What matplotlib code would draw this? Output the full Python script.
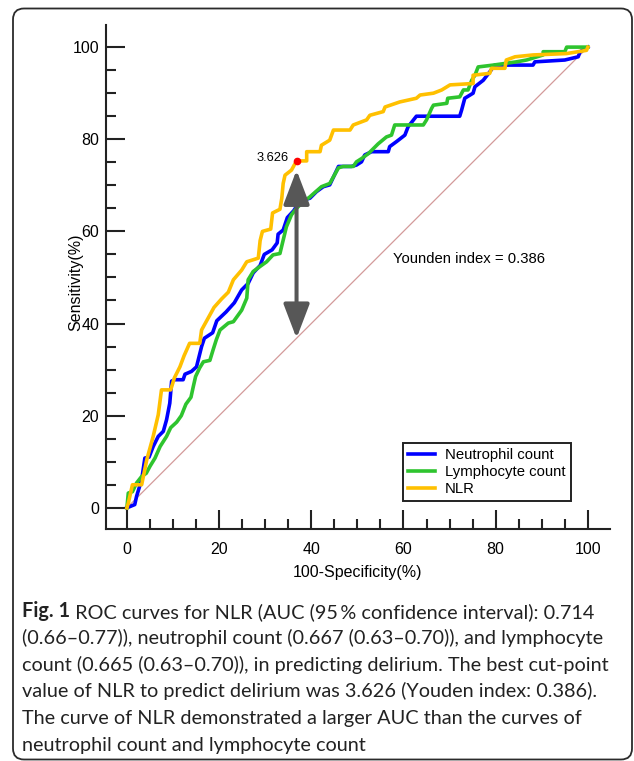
import matplotlib
matplotlib.use("Agg")
import matplotlib.pyplot as plt
from matplotlib.patches import FancyBboxPatch, FancyArrowPatch
from matplotlib.ticker import MultipleLocator
from matplotlib.transforms import IdentityTransform

plt.rcParams["font.family"] = ["Liberation Sans", "DejaVu Sans"]

# ROC curve vertices (x = 100-Specificity, y = Sensitivity)
nlr_x = [0, 0.3, 1.2, 3.2, 4.3, 5.7, 6.8, 7.5, 9.5, 10.3, 11.5, 12.4, 13.6, 15.8,
         16.2, 17.8, 18.9, 20.5, 22.0, 23.1, 24.9, 26.0, 28.5, 28.9, 29.4, 31.2,
         31.6, 33.2, 33.6, 33.9, 34.3, 35.7, 36.8, 39.0, 39.0, 41.9, 42.2, 44.0,
         44.8, 48.4, 49.1, 52.0, 52.7, 55.6, 56.0, 59.2, 62.8, 63.6, 66.5, 68.3,
         70.1, 75.1, 75.1, 78.7, 79.1, 82.0, 82.3, 84.2, 88.1, 95.4, 99.7, 100]
nlr_y = [0, 1.0, 5.0, 5.0, 10.4, 15.5, 20.2, 25.6, 25.6, 28.2, 30.6, 33.0, 35.7, 35.7,
         38.6, 41.5, 43.5, 45.3, 46.8, 49.5, 51.6, 53.4, 54.2, 58.0, 60.0, 60.5,
         64.0, 64.8, 67.2, 70.4, 72.2, 73.3, 75.3, 75.3, 77.3, 77.3, 78.7, 79.8,
         82.0, 82.0, 83.1, 84.2, 85.2, 86.0, 87.0, 88.1, 88.9, 89.6, 90.0, 90.7,
         91.8, 92.1, 93.9, 94.3, 95.4, 95.4, 97.2, 97.9, 98.3, 98.6, 99.3, 100]

neut_x = [0, 1.7, 2.1, 3.2, 3.9, 4.8, 5.7, 6.8, 7.9, 8.6, 9.3, 9.7, 10.4, 12.2,
          12.6, 14.0, 15.1, 16.2, 16.8, 18.6, 19.5, 21.5, 23.3, 24.9, 26.3, 27.4,
          28.9, 29.8, 31.5, 32.6, 32.8, 33.9, 34.8, 36.2, 37.5, 39.7, 41.1, 42.6,
          44.0, 45.9, 48.7, 49.8, 50.9, 51.6, 53.1, 56.7, 57.0, 58.5, 60.3, 61.0,
          62.8, 72.2, 72.6, 73.3, 75.1, 75.5, 77.3, 78.7, 79.8, 88.1, 88.5, 95.0,
          97.9, 98.3, 100]
neut_y = [0, 0.7, 2.5, 6.1, 10.8, 11.0, 13.3, 15.5, 16.6, 19.1, 22.7, 27.5, 27.8, 27.8,
          29.0, 29.6, 30.6, 35.0, 36.8, 38.0, 40.6, 42.5, 44.5, 47.3, 48.7, 51.0,
          52.6, 55.0, 56.0, 57.5, 59.4, 60.3, 63.0, 64.5, 66.6, 67.2, 68.6, 69.7,
          70.1, 74.1, 74.1, 74.4, 75.1, 76.6, 77.3, 77.3, 78.4, 79.5, 80.9, 82.7,
          85.0, 85.0, 86.3, 88.9, 90.0, 91.4, 92.8, 94.6, 96.1, 96.1, 96.8, 97.2,
          97.9, 99.0, 100]

lymph_x = [0, 0.3, 1.2, 2.1, 3.2, 4.2, 5.0, 6.1, 7.2, 8.6, 9.5, 10.8, 11.8, 12.8,
           13.9, 14.4, 14.9, 15.8, 16.6, 18.0, 18.7, 19.4, 20.2, 22.0, 23.1, 24.9,
           26.0, 26.3, 27.4, 28.9, 30.3, 31.7, 33.2, 33.9, 34.6, 35.7, 36.8, 37.8,
           39.7, 42.2, 44.0, 45.9, 46.9, 49.1, 49.8, 50.9, 52.4, 53.4, 54.5, 56.3,
           57.4, 58.1, 64.3, 65.0, 66.1, 66.5, 69.4, 69.6, 72.2, 73.0, 74.0, 74.8,
           75.5, 76.2, 79.5, 84.5, 86.7, 90.3, 90.3, 95.0, 95.4, 100]
lymph_y = [0, 3.2, 3.5, 5.4, 6.8, 7.5, 9.0, 10.8, 13.3, 15.5, 17.4, 18.6, 20.0, 22.5,
           24.0, 26.3, 28.5, 30.4, 31.7, 32.0, 34.3, 36.5, 38.6, 40.1, 40.4, 42.9,
           45.5, 49.5, 51.3, 52.4, 53.4, 54.9, 55.2, 58.1, 61.0, 63.6, 65.0, 66.0,
           67.5, 69.7, 70.4, 73.8, 74.1, 74.1, 75.1, 75.8, 76.9, 77.9, 79.0, 80.5,
           80.9, 83.1, 83.1, 84.2, 86.7, 87.4, 87.8, 88.9, 89.2, 90.7, 90.7, 92.8,
           93.9, 95.7, 96.1, 96.8, 97.2, 98.3, 99.0, 99.0, 100, 100]

ref_line = [0, 100]
cut_x, cut_y = 36.8, 75.3
cut_label = "3.626"
youden_label = "Younden index = 0.386"
youden_pos = (57.7, 54.0)
legend_labels = ["Neutrophil count", "Lymphocyte count", "NLR"]
colors = ["#0000FF", "#2EC42E", "#FFC000"]

caption_bold = "Fig. 1"
caption_lines = [
    " ROC curves for NLR (AUC (95\u2009% confidence interval): 0.714",
    "(0.66\u20130.77)), neutrophil count (0.667 (0.63\u20130.70)), and lymphocyte",
    "count (0.665 (0.63\u20130.70)), in predicting delirium. The best cut-point",
    "value of NLR to predict delirium was 3.626 (Youden index: 0.386).",
    "The curve of NLR demonstrated a larger AUC than the curves of",
    "neutrophil count and lymphocyte count",
]

W, H = 634, 761
fig = plt.figure(figsize=(W / 100, H / 100), dpi=100)

# rounded frame around the whole figure panel
frame = FancyBboxPatch((13, 1.5), 619, 751, boxstyle="round,pad=0,rounding_size=11",
                       transform=IdentityTransform(), facecolor="none",
                       edgecolor="#2b2b2b", linewidth=1.3)
fig.patches.append(frame)

ax = fig.add_axes([105.7 / W, 1 - 529 / H, (610 - 105.7) / W, (529 - 25) / H])

ax.plot(ref_line, ref_line, color="#D39A9A", lw=0.9, zorder=1)
ax.plot(neut_x, neut_y, color=colors[0], lw=2.6, label=legend_labels[0], zorder=2)
ax.plot(lymph_x, lymph_y, color=colors[1], lw=2.6, label=legend_labels[1], zorder=3)
ax.plot(nlr_x, nlr_y, color=colors[2], lw=2.6, label=legend_labels[2], zorder=4)

# Youden index arrow
arrow = FancyArrowPatch((cut_x, cut_y - 2.0), (cut_x, cut_x),
                        arrowstyle="<|-|>,head_length=2.1,head_width=0.8",
                        mutation_scale=10, color="#575757", lw=2.9,
                        shrinkA=0, shrinkB=0, zorder=5)
ax.add_patch(arrow)
ax.plot(cut_x, cut_y, "o", color="red", ms=4.5, zorder=6)
ax.annotate(cut_label, (cut_x, cut_y), xytext=(-6, 2), textcoords="offset points",
            ha="right", va="center", fontsize=9.3)
ax.text(youden_pos[0], youden_pos[1], youden_label, ha="left", va="center",
        fontsize=10.7)

ax.set_xlim(-4.6, 104.8)
ax.set_ylim(-4.6, 104.8)
for side in ["top", "right"]:
    ax.spines[side].set_visible(False)
for side in ["left", "bottom"]:
    ax.spines[side].set_linewidth(1.5)
    ax.spines[side].set_color("#222222")

ax.xaxis.set_major_locator(MultipleLocator(20))
ax.xaxis.set_minor_locator(MultipleLocator(5))
ax.yaxis.set_major_locator(MultipleLocator(20))
ax.yaxis.set_minor_locator(MultipleLocator(5))
ax.set_xticks([0, 20, 40, 60, 80, 100])
ax.set_yticks([0, 20, 40, 60, 80, 100])
ax.tick_params(which="major", direction="in", length=14, width=1.5, color="#222222",
               labelsize=11.5)
ax.tick_params(which="minor", direction="in", length=7, width=1.5, color="#222222")
ax.tick_params(axis="x", which="major", pad=9)
ax.tick_params(axis="y", which="major", pad=4.7)

ax.set_xlabel("100-Specificity(%)", fontsize=11.5)
ax.set_ylabel("Sensitivity(%)", fontsize=11.5)
ax.xaxis.set_label_coords(0.5, -0.071)
ax.yaxis.set_label_coords(-0.045, 0.49)

leg = ax.legend(loc="lower center", bbox_to_anchor=(0.756, 0.0556), fontsize=10.7,
                frameon=True, fancybox=False, framealpha=1, edgecolor="#222222",
                handlelength=1.8, handletextpad=0.7, labelspacing=0.2,
                borderpad=0.35, borderaxespad=0)
leg.get_frame().set_linewidth(1.4)
for h in leg.get_lines():
    h.set_linewidth(2.6)

# caption
cap_font = dict(family=["Lato", "DejaVu Sans"], fontsize=14.3, color="#222222")
y0 = 617
step = 26.8
bold = fig.text(22 / W, 1 - y0 / H, caption_bold, ha="left", va="baseline",
                fontweight="bold", **cap_font)
ax.annotate(caption_lines[0], xy=(1, 0), xycoords=bold, xytext=(0, 0),
            textcoords="offset points", ha="left", va="bottom",
            annotation_clip=False, **cap_font)
for i, line in enumerate(caption_lines[1:], start=1):
    fig.text(22 / W, 1 - (y0 + i * step) / H, line, ha="left", va="baseline",
             **cap_font)

fig.savefig("out.png", dpi=100)
